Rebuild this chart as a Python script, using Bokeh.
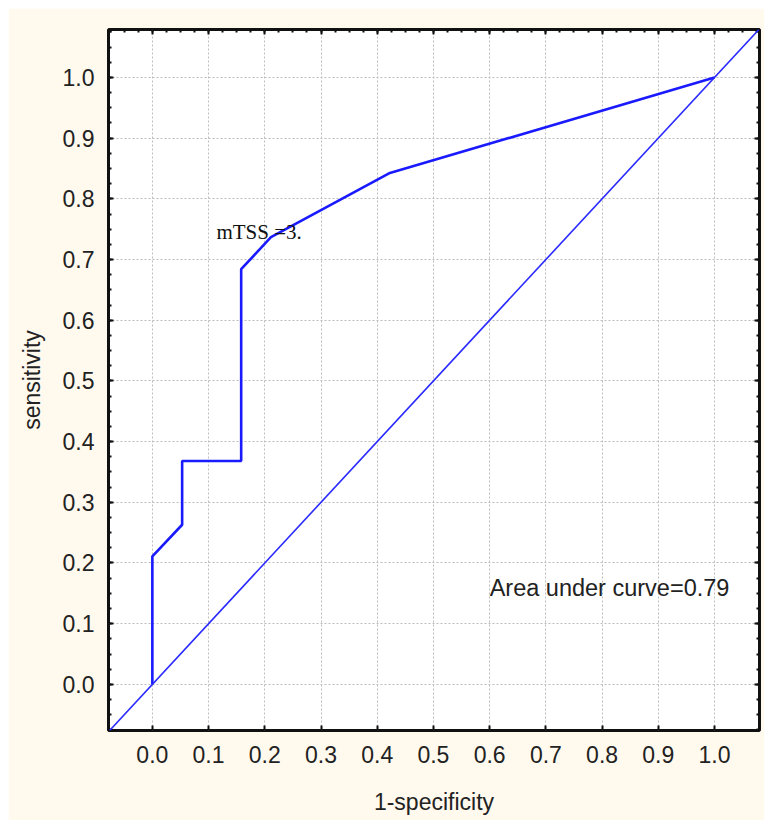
from bokeh.plotting import figure
from bokeh.models import FixedTicker, LinearAxis, Slope, Range1d, Label
from bokeh.embed import file_html
from bokeh.resources import INLINE

# ROC curve points (1-specificity, sensitivity)
fpr = [0.0, 0.0, 0.053, 0.053, 0.158, 0.158, 0.211, 0.421, 1.0]
tpr = [0.0, 0.211, 0.263, 0.368, 0.368, 0.684, 0.737, 0.842, 1.0]
tick_values = [0.0, 0.1, 0.2, 0.3, 0.4, 0.5, 0.6, 0.7, 0.8, 0.9, 1.0]
tick_labels = ["0.0", "0.1", "0.2", "0.3", "0.4", "0.5", "0.6", "0.7", "0.8", "0.9", "1.0"]
auc_text = "Area under curve=0.79"
cut_text = "mTSS =3."
x_title = "1-specificity"
y_title = "sensitivity"

FONT = "Liberation Sans"
TXT = "#222222"
CREAM = "#FFF9EE"

p = figure(width=756, height=812, margin=(8, 0, 0, 8),
           x_range=Range1d(-0.078, 1.080), y_range=Range1d(-0.076, 1.079),
           output_backend="svg", toolbar_location=None,
           min_border_left=100, min_border_top=21, min_border_right=5, min_border_bottom=90,
           background_fill_color="white", border_fill_color=CREAM,
           x_axis_label=x_title, y_axis_label=y_title)
p.outline_line_color = "#111111"
p.outline_line_width = 3

minor = [round(-0.075 + 0.025 * i, 3) for i in range(47)]
ticker = FixedTicker(ticks=tick_values, minor_ticks=minor)
overrides = {v: s for v, s in zip(tick_values, tick_labels)}

for ax in (p.xaxis[0], p.yaxis[0]):
    ax.ticker = ticker
    ax.major_label_overrides = overrides
    ax.major_label_text_font = FONT
    ax.major_label_text_font_size = "23px"
    ax.major_label_text_color = TXT
    ax.axis_label_text_font = FONT
    ax.axis_label_text_font_size = "23px"
    ax.axis_label_text_font_style = "normal"
    ax.axis_label_text_color = TXT
    ax.axis_line_color = None
    ax.major_tick_out = 0
    ax.minor_tick_out = 0
    ax.major_tick_in = 5
    ax.minor_tick_in = 3
    ax.major_tick_line_color = "#111111"
    ax.minor_tick_line_color = "#111111"
    ax.major_tick_line_width = 2
    ax.minor_tick_line_width = 2

p.xaxis[0].minor_tick_line_color = None
p.xaxis[0].major_label_standoff = 15
p.xaxis[0].axis_label_standoff = 23
p.yaxis[0].major_label_standoff = 14
p.yaxis[0].axis_label_standoff = 15

for loc in ("above", "right"):
    ax = LinearAxis(ticker=ticker, major_label_text_color=None,
                    major_label_text_font_size="1px",
                    major_label_standoff=0, axis_line_color=None,
                    major_tick_out=0, minor_tick_out=0, major_tick_in=5, minor_tick_in=3,
                    major_tick_line_color="#111111", minor_tick_line_color="#111111",
                    major_tick_line_width=2, minor_tick_line_width=2)
    p.add_layout(ax, loc)

for g in (p.xgrid[0], p.ygrid[0]):
    g.ticker = FixedTicker(ticks=tick_values)
    g.grid_line_color = "#bdbdbd"
    g.grid_line_dash = "2 2"
    g.grid_line_width = 1

p.add_layout(Slope(gradient=1, y_intercept=0, line_color="#2a2aff", line_width=1.6))
p.line(fpr, tpr, line_color="#1a1aff", line_width=2.6)

p.add_layout(Label(x=0.114, y=0.746, text=cut_text, text_font="Liberation Serif",
                   text_font_size="21px", text_color="#111111", text_baseline="alphabetic"))
p.add_layout(Label(x=0.600, y=0.158, text=auc_text, text_font=FONT,
                   text_font_size="23.5px", text_color=TXT, text_baseline="alphabetic"))

open("out.html", "w").write(file_html(p, INLINE))
